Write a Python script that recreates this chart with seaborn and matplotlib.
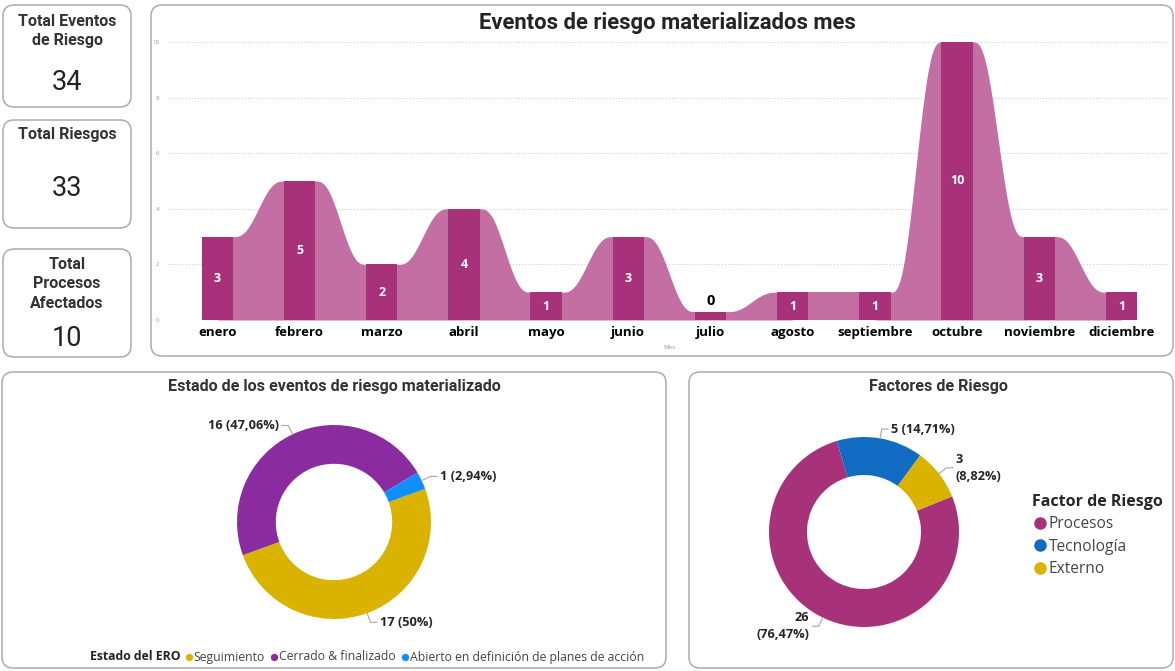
# Tablero de eventos de riesgo materializados
import numpy as np
import pandas as pd
import seaborn as sb
from matplotlib import pyplot as plt
from matplotlib.patches import FancyBboxPatch
from matplotlib.lines import Line2D

meses = ["enero", "febrero", "marzo", "abril", "mayo", "junio", "julio",
         "agosto", "septiembre", "octubre", "noviembre", "diciembre"]
eventos_mes = [3, 5, 2, 4, 1, 3, 0, 1, 1, 10, 3, 1]

kpi_titulos = ["Total Eventos\nde Riesgo", "Total Riesgos", "Total\nProcesos\nAfectados"]
kpi_valores = [34, 33, 10]

estados = ["Seguimiento", "Cerrado & finalizado", "Abierto en definición de planes de acción"]
estados_n = [17, 16, 1]

factores = ["Procesos", "Tecnología", "Externo"]
factores_n = [26, 5, 3]

W, H = 1175, 671
BAR = "#A8327A"
RIBBON = "#C46FA3"
TXT = "#252423"
BORDE = "#ABABAB"
SANS = ["Open Sans", "DejaVu Sans"]
DIN = ["Roboto", "DejaVu Sans"]

sb.set_theme(style="white")
plt.rcParams["font.family"] = SANS


def add_ax(x0, y0, x1, y1, **kw):
    """Axes from pixel box (top-left origin)"""
    return fig.add_axes([x0 / W, 1 - y1 / H, (x1 - x0) / W, (y1 - y0) / H], **kw)


def panel(x0, y0, x1, y1):
    bg.add_patch(FancyBboxPatch((x0, y0), x1 - x0, y1 - y0,
                                boxstyle="round,pad=0,rounding_size=11",
                                fc="white", ec=BORDE, lw=1.1))


def fmt_pct(n, total):
    p = f"{100 * n / total:.2f}".rstrip("0").rstrip(".")
    return p.replace(".", ",") + "%"


def etiquetas_dona(ax, wedges, textos):
    for w, txt in zip(wedges, textos):
        ang = np.deg2rad((w.theta1 + w.theta2) / 2)
        x0, y0 = np.cos(ang), np.sin(ang)
        x1, y1 = 1.1 * x0, 1.1 * y0
        lado = 1 if x0 >= 0 else -1
        x2 = x1 + 0.07 * lado
        ax.plot([x0, x1, x2], [y0, y1, y1], color="#A6A6A6", lw=0.8, clip_on=False)
        ax.text(x2 + 0.03 * lado, y1, txt, ha="left" if lado > 0 else "right",
                va="center", multialignment="left" if lado > 0 else "right",
                fontsize=9.2, fontweight="bold", color=TXT, clip_on=False,
                linespacing=1.45)


fig = plt.figure(figsize=(W / 100, H / 100), dpi=100)
bg = fig.add_axes([0, 0, 1, 1], zorder=-1)
bg.set_xlim(0, W)
bg.set_ylim(H, 0)
bg.axis("off")

# --- tarjetas KPI
cards = [(3, 5, 131, 107), (3, 120, 131, 228), (3, 249, 131, 357)]
title_y = [31, 135, 284]
value_y = [82, 188, 338]
for (x0, y0, x1, y1), tit, val, ty, vy in zip(cards, kpi_titulos, kpi_valores, title_y, value_y):
    panel(x0, y0, x1, y1)
    bg.text((x0 + x1) / 2, ty, tit, ha="center", va="center", fontsize=11.5,
            fontweight="bold", family=DIN, color="#333333", linespacing=1.35)
    bg.text((x0 + x1) / 2, vy, str(val), ha="center", va="center", fontsize=19.5,
            family=DIN, color="#222222")

# --- grafico de cintas por mes
panel(151, 5, 1173, 356)
bg.text(667, 23, "Eventos de riesgo materializados mes", ha="center", va="center",
        fontsize=15.8, fontweight="bold", family=DIN, color=TXT)

df = pd.DataFrame({"Mes": meses, "Eventos": eventos_mes})
min_visible = 0.3
df["altura"] = df["Eventos"].clip(lower=min_visible)
ancho = 0.38

ax = add_ax(168, 42, 1170, 320)
ax.set_facecolor("none")
sb.barplot(data=df, x="Mes", y="altura", color=BAR, saturation=1, width=ancho,
           errorbar=None, linewidth=0, zorder=3, ax=ax)

# cintas: planas bajo cada barra, transicion suave en el hueco
alt = df["altura"].to_numpy()
for i in range(len(alt) - 1):
    xa, xb = i + ancho / 2, i + 1 - ancho / 2
    xs = np.linspace(i, i + 1, 120)
    u = np.clip((xs - xa) / (xb - xa), 0, 1)
    s = 6 * u**5 - 15 * u**4 + 10 * u**3
    ax.fill_between(xs, 0, alt[i] + (alt[i + 1] - alt[i]) * s, color=RIBBON, lw=0, zorder=2)

for i, (v, h) in enumerate(zip(df["Eventos"], alt)):
    if v > 0:
        ax.text(i, h / 2, str(v), ha="center", va="center", color="white",
                fontsize=9, fontweight="bold", zorder=4)
    else:
        ax.text(i, h + 0.12, str(v), ha="center", va="bottom", color="black",
                fontsize=10.5, fontweight="bold", zorder=4)

ax.set_xlim(-0.60, 11.59)
ax.set_ylim(0, 10)
ax.set_yticks(range(0, 11, 2))
ax.yaxis.grid(True, ls=":", color="#CFCFCF", lw=0.8)
ax.set_axisbelow(True)
for sp in ax.spines.values():
    sp.set_visible(False)
ax.tick_params(axis="y", labelsize=4.5, labelcolor="#9A9A9A", length=0, pad=6)
ax.tick_params(axis="x", labelsize=9.5, labelcolor="black", length=0, pad=4)
for lbl in ax.get_xticklabels():
    lbl.set_fontweight("bold")
ax.set_ylabel("")
ax.set_xlabel("Mes", fontsize=4.5, color="#9A9A9A", labelpad=5)

# --- dona: estado de los eventos
panel(2, 372, 666, 668)
bg.text(334, 386, "Estado de los eventos de riesgo materializado", ha="center",
        va="center", fontsize=11.6, fontweight="bold", family=DIN, color="#333333")
col_estados = ["#D9B300", "#8A2CA0", "#118DFF"]
ax1 = add_ax(334 - 97, 522 - 97, 334 + 97, 522 + 97)
w1, _ = ax1.pie(estados_n, colors=col_estados, startangle=20, counterclock=False,
                radius=1, wedgeprops=dict(width=0.4, linewidth=0))
ax1.set_xlim(-1, 1)
ax1.set_ylim(-1, 1)
ax1.set_aspect("equal")
tot1 = sum(estados_n)
etiquetas_dona(ax1, w1, [f"{n} ({fmt_pct(n, tot1)})" for n in estados_n])

# leyenda en linea
rend = fig.canvas.get_renderer()
x = 90
t = bg.text(x, 657, "Estado del ERO", ha="left", va="center", fontsize=8.8,
            fontweight="bold", color=TXT)
x += t.get_window_extent(rend).width + 5
for nombre, c in zip(estados, col_estados):
    bg.scatter([x + 3], [657], s=28, color=c, linewidths=0)
    t = bg.text(x + 8, 657, nombre, ha="left", va="center", fontsize=8.8, color="#444444")
    x += 8 + t.get_window_extent(rend).width + 6

# --- dona: factores de riesgo
panel(689, 372, 1173, 668)
bg.text(938, 386, "Factores de Riesgo", ha="center", va="center", fontsize=11.6,
        fontweight="bold", family=DIN, color="#333333")
col_factores = [BAR, "#126BC2", "#D9B300"]
ax2 = add_ax(864 - 95, 532 - 95, 864 + 95, 532 + 95)
w2, _ = ax2.pie(factores_n, colors=col_factores, startangle=22, counterclock=False,
                radius=1, wedgeprops=dict(width=0.4, linewidth=0))
ax2.set_xlim(-1, 1)
ax2.set_ylim(-1, 1)
ax2.set_aspect("equal")
tot2 = sum(factores_n)
saltos = ["\n", " ", "\n"]
etiquetas_dona(ax2, w2, [f"{n}{s}({fmt_pct(n, tot2)})" for n, s in zip(factores_n, saltos)])

handles = [Line2D([], [], marker="o", ls="", color=c, markersize=8) for c in col_factores]
fig.legend(handles, factores, title="Factor de Riesgo", loc="upper left",
           bbox_to_anchor=(1024 / W, 1 - 486 / H), frameon=False, fontsize=11.2,
           title_fontproperties={"weight": "bold", "size": 11.5}, alignment="left",
           handletextpad=0.1, labelspacing=0.42, borderpad=0, handlelength=1.0,
           labelcolor="#444444")

fig.savefig("out.png", dpi=100)
